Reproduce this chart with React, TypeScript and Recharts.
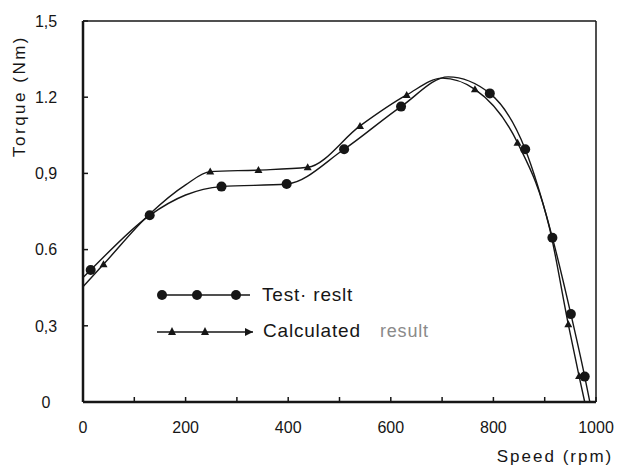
import { LineChart, Line, XAxis, YAxis, ReferenceLine, Legend } from "recharts";

// test result (circles) - unmarked points only shape the curve
const testSpeed = [0, 15, 130, 200, 270, 397, 509, 620, 712, 793, 862, 915, 951, 978, 988];
const testTorque = [0.49, 0.52, 0.735, 0.815, 0.848, 0.858, 0.995, 1.163, 1.28, 1.215, 0.995, 0.647, 0.346, 0.1, 0];
const testMarked = [false, true, true, false, true, true, true, true, false, true, true, true, true, true, false];

// calculated result (triangles)
const calcSpeed = [0, 40, 130, 200, 248, 342, 438, 540, 631, 700, 764, 847, 910, 946, 967, 978];
const calcTorque = [0.454, 0.542, 0.74, 0.855, 0.907, 0.913, 0.924, 1.087, 1.209, 1.275, 1.231, 1.021, 0.68, 0.306, 0.102, 0];
const calcMarked = [false, true, false, false, true, true, true, true, true, false, true, true, false, true, true, false];

const xTicks = [0, 100, 200, 300, 400, 500, 600, 700, 800, 900, 1000];
const xLabels = ["0", "", "200", "", "400", "", "600", "", "800", "", "1000"];
const yTicks = [0, 0.3, 0.6, 0.9, 1.2, 1.5];
const yLabels = ["0", "0,3", "0.6", "0,9", "1.2", "1,5"];

const testData = testSpeed.map((s, i) => ({ speed: s, torque: testTorque[i], marked: testMarked[i] }));
const calcData = calcSpeed.map((s, i) => ({ speed: s, torque: calcTorque[i], marked: calcMarked[i] }));

const INK = "#161616";
const FONT = "'Liberation Sans', Arial, sans-serif";

const circleDot = (props: any) => {
  const { cx, cy, payload, index } = props;
  if (!payload.marked) return <g key={`t-${index}`} />;
  return <circle key={`t-${index}`} cx={cx} cy={cy} r={5} fill={INK} />;
};

const triangleDot = (props: any) => {
  const { cx, cy, payload, index } = props;
  if (!payload.marked) return <g key={`c-${index}`} />;
  return (
    <polygon
      key={`c-${index}`}
      points={`${cx},${cy - 4} ${cx + 4},${cy + 3} ${cx - 4},${cy + 3}`}
      fill={INK}
    />
  );
};

const XTick = (props: any) => {
  const { x, y, index } = props;
  return (
    <text x={x} y={y + 25} dy="0.71em" textAnchor="middle" fontSize={16} fontFamily={FONT} fill={INK}>
      {xLabels[index]}
    </text>
  );
};

const YTick = (props: any) => {
  const { y, index } = props;
  return (
    <text x={46} y={y} dy="0.36em" textAnchor="middle" fontSize={16} fontFamily={FONT} fill={INK}>
      {yLabels[index]}
    </text>
  );
};

const LegendBox = () => (
  <svg width={320} height={70} style={{ overflow: "visible" }}>
    <line x1={12} y1={15} x2={100} y2={15} stroke={INK} strokeWidth={1.5} />
    {[12, 47, 86].map((x) => (
      <circle key={x} cx={x} cy={15} r={5} fill={INK} />
    ))}
    <text x={112} y={21} fontSize={19} letterSpacing={0.8} fontFamily={FONT} fill={INK}>
      Test· reslt
    </text>
    <line x1={7} y1={52} x2={103} y2={52} stroke={INK} strokeWidth={1.5} />
    {[22, 55].map((x) => (
      <polygon key={x} points={`${x},${47} ${x + 4},${55} ${x - 4},${55}`} fill={INK} />
    ))}
    <polygon points="103,52 95,48 95,56" fill={INK} />
    <text x={113} y={57} fontSize={19} letterSpacing={0.8} fontFamily={FONT} fill={INK}>
      Calculated
    </text>
    <text x={230} y={57} fontSize={18} letterSpacing={0.8} fontFamily={FONT} fill="#8a8a8a">
      result
    </text>
  </svg>
);

export default function App() {
  return (
    <div style={{ position: "absolute", left: 0, top: 0, width: 618, height: 469, background: "#fff" }}>
      <LineChart width={618} height={469} margin={{ top: 21, right: 22, bottom: 0, left: 0 }}>
        <XAxis
          type="number"
          dataKey="speed"
          domain={[0, 1000]}
          ticks={xTicks}
          tick={<XTick />}
          tickSize={-5}
          tickMargin={0}
          height={67}
          axisLine={{ stroke: INK, strokeWidth: 2.5 }}
          tickLine={{ stroke: INK, strokeWidth: 1.5 }}
          allowDuplicatedCategory={false}
        />
        <YAxis
          type="number"
          domain={[0, 1.5]}
          ticks={yTicks}
          tick={<YTick />}
          tickSize={-5}
          tickMargin={0}
          width={83}
          axisLine={{ stroke: INK, strokeWidth: 2.5 }}
          tickLine={{ stroke: INK, strokeWidth: 1.5 }}
        />
        <ReferenceLine y={1.5} stroke={INK} strokeWidth={1.5} />
        <ReferenceLine x={1000} stroke={INK} strokeWidth={1.5} />
        <Line
          data={testData}
          dataKey="torque"
          type="monotone"
          stroke={INK}
          strokeWidth={1.4}
          dot={circleDot}
          activeDot={false}
          isAnimationActive={false}
        />
        <Line
          data={calcData}
          dataKey="torque"
          type="monotone"
          stroke={INK}
          strokeWidth={1.4}
          dot={triangleDot}
          activeDot={false}
          isAnimationActive={false}
        />
        <Legend
          layout="horizontal"
          verticalAlign="middle"
          align="center"
          content={<LegendBox />}
          wrapperStyle={{ left: 150, top: 280, width: 320, height: 70 }}
        />
        <text
          x={19}
          y={96}
          transform="rotate(-90 19 96)"
          textAnchor="middle"
          dy="0.36em"
          fontSize={17}
          letterSpacing={2.5}
          fontFamily={FONT}
          fill={INK}
        >
          Torque  (Nm)
        </text>
        <text x={555} y={462} textAnchor="middle" fontSize={17} letterSpacing={2} fontFamily={FONT} fill={INK}>
          Speed (rpm)
        </text>
      </LineChart>
    </div>
  );
}
